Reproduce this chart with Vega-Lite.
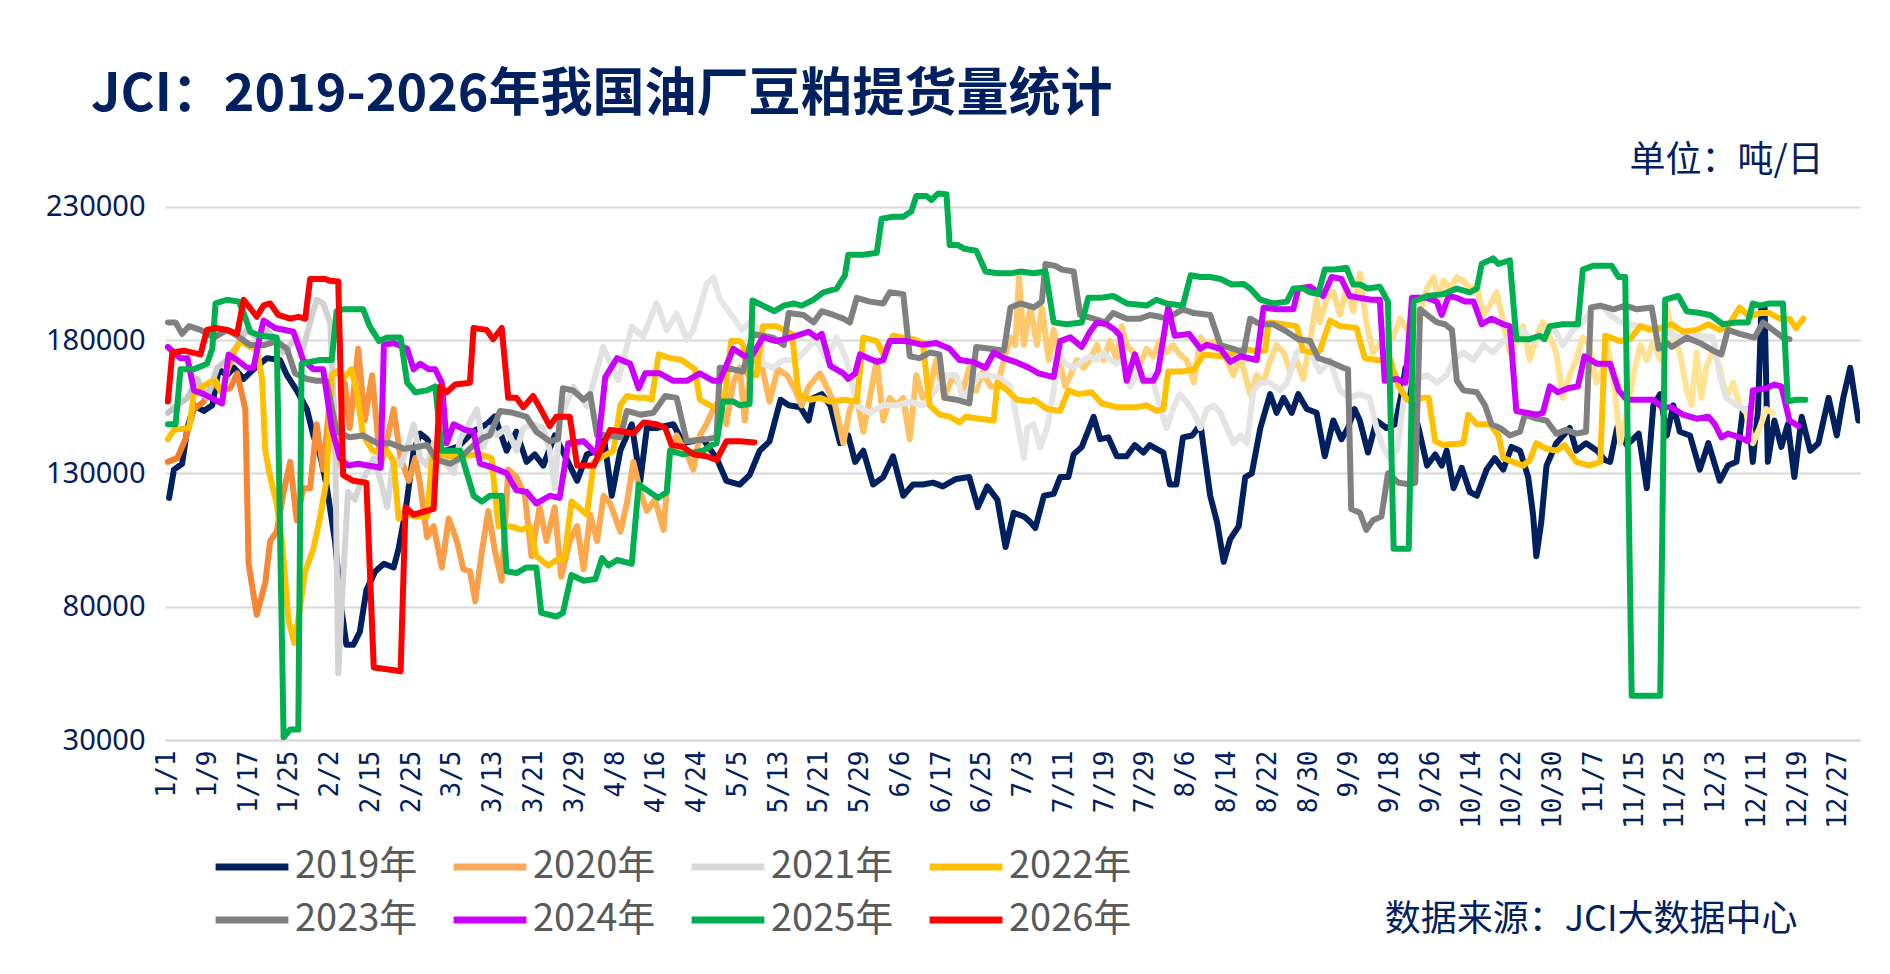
{
  "$schema": "https://vega.github.io/schema/vega-lite/v6.json",
  "width": 1695,
  "height": 560,
  "autosize": {"type": "none"},
  "padding": {"left": 165, "top": 180, "right": 30, "bottom": 234},
  "background": "white",
  "title": {
    "text": "JCI：2019-2026年我国油厂豆粕提货量统计",
    "anchor": "start",
    "frame": "group",
    "dx": -74,
    "offset": 20,
    "font": "Noto Sans CJK SC",
    "fontSize": 52,
    "fontWeight": "bold",
    "color": "#002060"
  },
  "datasets": {
    "d2019": [
      {"x":0.06,"y":120800},{"x":0.18,"y":131400},{"x":0.38,"y":133600},{"x":0.51,"y":147000},{"x":0.67,"y":155500},{"x":0.91,"y":153400},{"x":1.12,"y":155500},{"x":1.28,"y":169000},{"x":1.48,"y":166800},{"x":1.65,"y":169600},{"x":1.89,"y":165400},{"x":2.13,"y":169000},{"x":2.46,"y":173200},{"x":2.78,"y":172500},{"x":2.95,"y":166800},{"x":3.19,"y":161100},{"x":3.44,"y":154100},{"x":3.6,"y":144200},{"x":3.76,"y":137100},{"x":3.92,"y":125800},{"x":4.13,"y":104600},{"x":4.29,"y":79100},{"x":4.41,"y":65700},{"x":4.58,"y":65700},{"x":4.74,"y":70600},{"x":4.9,"y":86200},{"x":5.12,"y":93300},{"x":5.33,"y":96100},{"x":5.57,"y":94700},{"x":5.69,"y":101700},{"x":5.86,"y":115900},{"x":6.06,"y":138500},{"x":6.22,"y":144900},{"x":6.39,"y":142800},{"x":6.55,"y":138500},{"x":6.85,"y":138500},{"x":7.15,"y":140000},{"x":7.55,"y":146000},{"x":7.85,"y":148400},{"x":8.05,"y":151300},{"x":8.34,"y":138500},{"x":8.58,"y":145600},{"x":8.83,"y":134300},{"x":9.03,"y":137100},{"x":9.24,"y":132900},{"x":9.52,"y":144200},{"x":9.8,"y":135700},{"x":10.07,"y":127200},{"x":10.31,"y":137100},{"x":10.56,"y":138500},{"x":10.72,"y":144200},{"x":10.92,"y":121600},{"x":11.13,"y":138500},{"x":11.41,"y":148400},{"x":11.62,"y":127200},{"x":11.78,"y":147000},{"x":12.02,"y":147000},{"x":12.43,"y":148400},{"x":12.67,"y":141400},{"x":13.16,"y":142800},{"x":13.49,"y":135700},{"x":13.73,"y":127200},{"x":14.06,"y":125800},{"x":14.3,"y":129300},{"x":14.55,"y":138500},{"x":14.79,"y":142000},{"x":15.06,"y":157600},{"x":15.26,"y":155500},{"x":15.54,"y":154800},{"x":15.75,"y":149800},{"x":15.87,"y":158300},{"x":16.07,"y":159700},{"x":16.28,"y":155500},{"x":16.52,"y":141300},{"x":16.72,"y":144200},{"x":16.89,"y":134300},{"x":17.09,"y":138500},{"x":17.33,"y":125800},{"x":17.58,"y":128600},{"x":17.82,"y":136400},{"x":18.07,"y":121600},{"x":18.31,"y":125800},{"x":18.55,"y":125800},{"x":18.8,"y":126500},{"x":19.04,"y":125100},{"x":19.37,"y":127900},{"x":19.69,"y":128600},{"x":19.9,"y":117300},{"x":20.13,"y":125100},{"x":20.38,"y":120100},{"x":20.58,"y":102400},{"x":20.78,"y":115200},{"x":21.03,"y":113800},{"x":21.17,"y":112000},{"x":21.31,"y":109500},{"x":21.52,"y":121600},{"x":21.76,"y":122300},{"x":21.92,"y":128600},{"x":22.12,"y":128600},{"x":22.25,"y":137100},{"x":22.45,"y":139900},{"x":22.74,"y":151200},{"x":22.9,"y":142800},{"x":23.1,"y":143500},{"x":23.31,"y":136400},{"x":23.55,"y":136400},{"x":23.75,"y":140600},{"x":23.96,"y":137800},{"x":24.12,"y":140600},{"x":24.45,"y":137800},{"x":24.61,"y":125800},{"x":24.77,"y":125800},{"x":24.93,"y":143500},{"x":25.16,"y":144200},{"x":25.36,"y":148400},{"x":25.6,"y":121600},{"x":25.77,"y":111600},{"x":25.93,"y":96800},{"x":26.09,"y":105300},{"x":26.3,"y":110200},{"x":26.46,"y":128600},{"x":26.62,"y":130000},{"x":26.83,"y":147000},{"x":27.07,"y":159700},{"x":27.23,"y":152700},{"x":27.4,"y":158300},{"x":27.6,"y":152700},{"x":27.76,"y":159700},{"x":27.97,"y":154100},{"x":28.21,"y":152700},{"x":28.41,"y":136400},{"x":28.62,"y":149800},{"x":28.82,"y":142800},{"x":28.98,"y":147000},{"x":29.14,"y":154100},{"x":29.27,"y":149800},{"x":29.47,"y":137800},{"x":29.68,"y":149800},{"x":29.92,"y":147000},{"x":30.14,"y":148400},{"x":30.31,"y":161100},{"x":30.39,"y":169600},{"x":30.51,"y":158300},{"x":30.71,"y":147000},{"x":30.92,"y":132900},{"x":31.12,"y":137100},{"x":31.28,"y":132900},{"x":31.4,"y":138500},{"x":31.57,"y":124400},{"x":31.77,"y":132100},{"x":31.97,"y":123000},{"x":32.14,"y":121600},{"x":32.38,"y":131400},{"x":32.58,"y":135700},{"x":32.79,"y":131400},{"x":32.99,"y":139900},{"x":33.2,"y":138500},{"x":33.4,"y":128600},{"x":33.52,"y":114500},{"x":33.6,"y":98900},{"x":33.72,"y":111600},{"x":33.85,"y":132900},{"x":34.09,"y":141300},{"x":34.42,"y":147000},{"x":34.58,"y":138500},{"x":34.82,"y":141300},{"x":35.09,"y":138500},{"x":35.28,"y":135000},{"x":35.41,"y":134300},{"x":35.58,"y":147000},{"x":35.82,"y":140600},{"x":36.11,"y":144900},{"x":36.31,"y":124400},{"x":36.47,"y":155500},{"x":36.64,"y":159700},{"x":36.8,"y":144200},{"x":36.96,"y":155500},{"x":37.12,"y":145600},{"x":37.37,"y":144200},{"x":37.61,"y":131400},{"x":37.82,"y":141300},{"x":38.1,"y":127200},{"x":38.3,"y":132900},{"x":38.51,"y":134300},{"x":38.67,"y":154100},{"x":38.79,"y":154100},{"x":38.91,"y":134300},{"x":39.04,"y":154100},{"x":39.12,"y":192200},{"x":39.2,"y":192200},{"x":39.28,"y":134300},{"x":39.44,"y":149800},{"x":39.61,"y":139900},{"x":39.77,"y":148400},{"x":39.93,"y":128600},{"x":40.11,"y":151200},{"x":40.32,"y":138500},{"x":40.52,"y":141300},{"x":40.77,"y":158300},{"x":40.97,"y":144200},{"x":41.13,"y":158300},{"x":41.3,"y":169600},{"x":41.5,"y":149800}
    ],
    "d2020": [
      {"x":0.03,"y":134300},{"x":0.26,"y":135700},{"x":0.46,"y":142800},{"x":0.67,"y":154100},{"x":0.91,"y":156900},{"x":1.16,"y":164000},{"x":1.32,"y":161100},{"x":1.56,"y":161900},{"x":1.73,"y":167500},{"x":1.93,"y":154100},{"x":2.01,"y":96100},{"x":2.21,"y":77000},{"x":2.42,"y":89000},{"x":2.54,"y":104600},{"x":2.7,"y":108100},{"x":2.87,"y":123000},{"x":3.03,"y":134300},{"x":3.19,"y":112400},{"x":3.35,"y":124400},{"x":3.52,"y":124400},{"x":3.68,"y":148400},{"x":3.84,"y":131400},{"x":4.01,"y":158300},{"x":4.17,"y":132900},{"x":4.37,"y":164000},{"x":4.49,"y":147000},{"x":4.7,"y":176700},{"x":4.86,"y":149800},{"x":5.04,"y":166800},{"x":5.25,"y":132900},{"x":5.37,"y":139900},{"x":5.57,"y":154100},{"x":5.74,"y":135700},{"x":5.94,"y":127200},{"x":6.1,"y":135700},{"x":6.22,"y":125800},{"x":6.39,"y":106000},{"x":6.55,"y":110200},{"x":6.75,"y":94700},{"x":6.92,"y":113100},{"x":7.12,"y":104600},{"x":7.28,"y":94000},{"x":7.44,"y":93300},{"x":7.57,"y":82000},{"x":7.73,"y":100300},{"x":7.89,"y":115900},{"x":8.06,"y":100300},{"x":8.22,"y":89700},{"x":8.38,"y":131400},{"x":8.58,"y":128600},{"x":8.79,"y":121600},{"x":8.95,"y":98900},{"x":9.15,"y":117300},{"x":9.32,"y":104600},{"x":9.52,"y":117300},{"x":9.68,"y":91200},{"x":9.89,"y":104600},{"x":10.07,"y":110200},{"x":10.23,"y":94000},{"x":10.39,"y":114500},{"x":10.56,"y":104600},{"x":10.72,"y":121600},{"x":10.88,"y":118700},{"x":11.13,"y":108100},{"x":11.29,"y":118700},{"x":11.45,"y":134300},{"x":11.62,"y":123000},{"x":11.78,"y":115900},{"x":11.98,"y":120100},{"x":12.19,"y":108800},{"x":12.35,"y":138500},{"x":12.51,"y":144200},{"x":12.76,"y":137100},{"x":12.92,"y":131400},{"x":13.08,"y":144200},{"x":13.24,"y":148400},{"x":13.41,"y":154100},{"x":13.57,"y":157600},{"x":13.73,"y":148400},{"x":13.9,"y":164000},{"x":14.06,"y":169600},{"x":14.18,"y":149800},{"x":14.34,"y":171100},{"x":14.55,"y":173900},{"x":14.79,"y":156900},{"x":14.99,"y":169000},{"x":15.22,"y":166800},{"x":15.42,"y":161100},{"x":15.58,"y":155500},{"x":15.75,"y":162600},{"x":16.03,"y":167500},{"x":16.23,"y":161100},{"x":16.4,"y":155500},{"x":16.6,"y":141300},{"x":16.76,"y":154100},{"x":16.93,"y":158300},{"x":17.09,"y":145600},{"x":17.25,"y":158300},{"x":17.42,"y":172500},{"x":17.58,"y":149800},{"x":17.74,"y":158300},{"x":17.9,"y":155500},{"x":18.07,"y":158300},{"x":18.23,"y":142800},{"x":18.39,"y":166800},{"x":18.55,"y":158300},{"x":18.72,"y":161100},{"x":18.88,"y":172500},{"x":19.08,"y":158300},{"x":19.29,"y":166800},{"x":19.53,"y":161100},{"x":19.69,"y":169600},{"x":19.86,"y":161100},{"x":20.02,"y":168200},{"x":20.21,"y":162600},{"x":20.38,"y":162600},{"x":20.54,"y":172500},{"x":20.7,"y":180900},{"x":20.82,"y":178100},{"x":20.91,"y":203600},{"x":21.03,"y":178100},{"x":21.19,"y":192200},{"x":21.35,"y":178100},{"x":21.47,"y":192200},{"x":21.64,"y":172500},{"x":21.76,"y":183800},{"x":21.92,"y":171100},{"x":22.04,"y":162600},{"x":22.17,"y":166800},{"x":22.33,"y":172500},{"x":22.49,"y":169600},{"x":22.65,"y":172500},{"x":22.82,"y":178100},{"x":22.98,"y":172500},{"x":23.14,"y":179600},{"x":23.31,"y":172500},{"x":23.43,"y":185200},{"x":23.55,"y":178100},{"x":23.71,"y":175300},{"x":23.88,"y":171100},{"x":24.04,"y":176700},{"x":24.2,"y":173900},{"x":24.36,"y":179600},{"x":24.53,"y":175300},{"x":24.69,"y":178100},{"x":24.85,"y":174600},{"x":25.02,"y":172500},{"x":25.2,"y":164000},{"x":25.36,"y":181000},{"x":25.52,"y":178100},{"x":25.69,"y":179600},{"x":25.85,"y":175300},{"x":26.01,"y":172500},{"x":26.17,"y":166800},{"x":26.34,"y":173900},{"x":26.58,"y":159700},{"x":26.74,"y":166800},{"x":26.91,"y":164000},{"x":27.07,"y":172500},{"x":27.23,"y":178100},{"x":27.4,"y":175300},{"x":27.56,"y":168200},{"x":27.72,"y":172500},{"x":27.88,"y":165400},{"x":28.05,"y":179600},{"x":28.21,"y":195100},{"x":28.29,"y":186600},{"x":28.45,"y":195100},{"x":28.62,"y":197900},{"x":28.78,"y":189400},{"x":28.94,"y":199300},{"x":29.11,"y":190800},{"x":29.27,"y":205000},{"x":29.43,"y":186600},{"x":29.59,"y":175300},{"x":29.76,"y":178100},{"x":29.92,"y":183800},{"x":30.08,"y":181000},{"x":30.26,"y":188000},{"x":30.43,"y":183800},{"x":30.59,"y":186600},{"x":30.75,"y":190800},{"x":30.92,"y":199300},{"x":31.08,"y":203600},{"x":31.2,"y":195100},{"x":31.32,"y":202200},{"x":31.49,"y":199300},{"x":31.65,"y":203600},{"x":31.81,"y":202200},{"x":31.97,"y":199300},{"x":32.14,"y":200000},{"x":32.3,"y":189400},{"x":32.46,"y":193000},{"x":32.63,"y":197900},{"x":32.79,"y":186600},{"x":32.95,"y":175300},{"x":33.11,"y":179600},{"x":33.28,"y":185200},{"x":33.44,"y":172500},{"x":33.6,"y":181000},{"x":33.76,"y":186600},{"x":33.93,"y":181000},{"x":34.09,"y":175300},{"x":34.25,"y":158300},{"x":34.42,"y":166800},{"x":34.58,"y":172500},{"x":34.74,"y":181000},{"x":34.9,"y":178100},{"x":35.07,"y":164000},{"x":35.25,"y":169600},{"x":35.33,"y":179600},{"x":35.5,"y":164000},{"x":35.66,"y":141300},{"x":35.82,"y":152700},{"x":35.98,"y":166800},{"x":36.15,"y":178100},{"x":36.31,"y":172500},{"x":36.47,"y":179600},{"x":36.64,"y":172500},{"x":36.8,"y":192200},{"x":36.96,"y":181000},{"x":37.12,"y":175300},{"x":37.29,"y":161100},{"x":37.41,"y":155500},{"x":37.53,"y":175300},{"x":37.65,"y":158300},{"x":37.77,"y":169600},{"x":37.94,"y":176700},{"x":38.1,"y":169600},{"x":38.26,"y":158300},{"x":38.43,"y":164000},{"x":38.59,"y":155500},{"x":38.75,"y":152700},{"x":38.91,"y":141300},{"x":39.08,"y":147000},{"x":39.24,"y":154100},{"x":39.4,"y":152700}
    ],
    "d2021": [
      {"x":0.03,"y":152700},{"x":0.26,"y":155500},{"x":0.51,"y":158300},{"x":0.75,"y":165400},{"x":0.99,"y":158300},{"x":1.24,"y":169600},{"x":1.48,"y":172500},{"x":1.73,"y":178100},{"x":1.97,"y":183800},{"x":2.21,"y":181000},{"x":2.46,"y":183800},{"x":2.7,"y":179600},{"x":2.87,"y":175300},{"x":3.03,"y":178100},{"x":3.19,"y":181000},{"x":3.35,"y":176700},{"x":3.52,"y":186600},{"x":3.68,"y":195100},{"x":3.84,"y":193700},{"x":4.01,"y":186600},{"x":4.13,"y":147000},{"x":4.21,"y":55100},{"x":4.33,"y":90400},{"x":4.45,"y":123000},{"x":4.62,"y":120100},{"x":4.74,"y":125800},{"x":4.9,"y":130000},{"x":5.08,"y":135700},{"x":5.25,"y":127200},{"x":5.41,"y":117300},{"x":5.57,"y":135700},{"x":5.74,"y":132900},{"x":5.9,"y":139900},{"x":6.06,"y":148400},{"x":6.22,"y":135700},{"x":6.39,"y":132900},{"x":6.55,"y":141300},{"x":6.71,"y":139900},{"x":6.87,"y":132900},{"x":7.04,"y":130000},{"x":7.2,"y":142800},{"x":7.36,"y":147000},{"x":7.61,"y":154100},{"x":7.77,"y":139900},{"x":7.93,"y":147000},{"x":8.1,"y":144200},{"x":8.34,"y":147000},{"x":8.58,"y":138500},{"x":8.75,"y":147000},{"x":8.99,"y":148400},{"x":9.24,"y":147000},{"x":9.4,"y":138500},{"x":9.52,"y":124400},{"x":9.65,"y":150000},{"x":9.98,"y":162500},{"x":10.31,"y":155100},{"x":10.71,"y":177400},{"x":11.08,"y":165000},{"x":11.41,"y":185000},{"x":11.69,"y":181200},{"x":12.02,"y":193800},{"x":12.27,"y":183700},{"x":12.51,"y":190000},{"x":12.76,"y":180000},{"x":12.92,"y":183700},{"x":13.25,"y":201000},{"x":13.41,"y":203500},{"x":13.58,"y":195000},{"x":13.9,"y":188600},{"x":14.11,"y":183700},{"x":14.3,"y":186600},{"x":14.47,"y":185200},{"x":14.63,"y":171100},{"x":14.87,"y":169600},{"x":15.14,"y":172500},{"x":15.46,"y":172500},{"x":15.79,"y":178100},{"x":15.95,"y":179600},{"x":16.19,"y":172500},{"x":16.44,"y":181000},{"x":16.68,"y":172500},{"x":16.93,"y":155500},{"x":17.25,"y":152700},{"x":17.58,"y":155500},{"x":17.9,"y":155500},{"x":18.23,"y":156900},{"x":18.55,"y":155500},{"x":18.8,"y":159700},{"x":19.13,"y":166800},{"x":19.37,"y":166800},{"x":19.53,"y":158300},{"x":19.69,"y":161100},{"x":19.94,"y":166800},{"x":20.21,"y":166800},{"x":20.46,"y":165400},{"x":20.7,"y":162600},{"x":20.86,"y":149800},{"x":21.03,"y":135700},{"x":21.11,"y":147000},{"x":21.27,"y":148400},{"x":21.43,"y":139900},{"x":21.6,"y":147000},{"x":21.76,"y":161100},{"x":21.88,"y":175300},{"x":22.04,"y":171100},{"x":22.25,"y":169600},{"x":22.49,"y":172500},{"x":22.65,"y":173900},{"x":22.82,"y":172500},{"x":22.98,"y":175300},{"x":23.14,"y":172500},{"x":23.31,"y":171100},{"x":23.47,"y":172500},{"x":23.63,"y":162600},{"x":23.79,"y":166800},{"x":23.96,"y":164000},{"x":24.16,"y":166800},{"x":24.36,"y":155500},{"x":24.53,"y":147000},{"x":24.69,"y":154100},{"x":24.85,"y":159700},{"x":25.02,"y":156900},{"x":25.2,"y":152700},{"x":25.36,"y":147000},{"x":25.52,"y":154100},{"x":25.69,"y":155500},{"x":25.85,"y":152700},{"x":26.01,"y":147000},{"x":26.17,"y":141300},{"x":26.34,"y":144200},{"x":26.5,"y":141300},{"x":26.66,"y":161100},{"x":26.83,"y":164000},{"x":27.07,"y":164000},{"x":27.31,"y":161100},{"x":27.48,"y":164000},{"x":27.72,"y":175300},{"x":27.88,"y":176700},{"x":28.05,"y":175300},{"x":28.29,"y":168000},{"x":28.54,"y":172500},{"x":28.78,"y":161100},{"x":29.02,"y":158300},{"x":29.27,"y":159700},{"x":29.51,"y":158300},{"x":29.68,"y":147000},{"x":29.84,"y":139900},{"x":30.0,"y":135700},{"x":30.18,"y":138500},{"x":30.43,"y":166800},{"x":30.67,"y":165400},{"x":30.92,"y":166800},{"x":31.16,"y":164000},{"x":31.4,"y":166800},{"x":31.57,"y":172500},{"x":31.81,"y":175300},{"x":32.06,"y":172500},{"x":32.3,"y":178100},{"x":32.54,"y":175300},{"x":32.79,"y":179600},{"x":33.03,"y":181000},{"x":33.28,"y":183800},{"x":33.52,"y":179600},{"x":33.76,"y":182300},{"x":34.01,"y":185200},{"x":34.25,"y":178100},{"x":34.5,"y":183800},{"x":34.74,"y":186600},{"x":34.99,"y":192200},{"x":35.25,"y":192200},{"x":35.41,"y":189400},{"x":35.66,"y":186600},{"x":36.15,"y":185200},{"x":36.64,"y":183800},{"x":37.12,"y":181000},{"x":37.61,"y":181600},{"x":37.94,"y":181000},{"x":38.1,"y":166800},{"x":38.26,"y":158300},{"x":38.51,"y":155500},{"x":38.75,"y":154100}
    ],
    "d2022": [
      {"x":0.03,"y":142800},{"x":0.18,"y":146300},{"x":0.55,"y":147000},{"x":0.67,"y":159700},{"x":0.83,"y":161900},{"x":1.03,"y":164000},{"x":1.2,"y":164700},{"x":1.36,"y":159700},{"x":1.48,"y":168200},{"x":1.65,"y":175300},{"x":1.81,"y":179600},{"x":2.05,"y":177400},{"x":2.21,"y":176700},{"x":2.34,"y":165400},{"x":2.42,"y":138500},{"x":2.54,"y":128600},{"x":2.7,"y":118700},{"x":2.83,"y":104600},{"x":2.99,"y":74900},{"x":3.13,"y":66400},{"x":3.27,"y":79100},{"x":3.4,"y":93300},{"x":3.6,"y":101700},{"x":3.76,"y":113100},{"x":3.92,"y":127200},{"x":4.05,"y":166800},{"x":4.17,"y":168200},{"x":4.33,"y":165400},{"x":4.53,"y":169000},{"x":4.66,"y":161100},{"x":4.82,"y":144200},{"x":5.05,"y":138500},{"x":5.21,"y":137800},{"x":5.41,"y":138500},{"x":5.57,"y":134300},{"x":5.69,"y":113100},{"x":5.9,"y":114500},{"x":6.14,"y":113800},{"x":6.39,"y":113800},{"x":6.51,"y":135700},{"x":6.71,"y":137100},{"x":6.96,"y":136400},{"x":7.2,"y":136400},{"x":7.69,"y":137100},{"x":7.97,"y":135700},{"x":8.14,"y":110200},{"x":8.42,"y":110200},{"x":8.71,"y":108800},{"x":8.91,"y":110200},{"x":9.07,"y":98900},{"x":9.36,"y":95400},{"x":9.56,"y":97500},{"x":9.76,"y":98200},{"x":9.93,"y":119400},{"x":10.15,"y":116600},{"x":10.31,"y":114500},{"x":10.48,"y":134300},{"x":10.72,"y":136400},{"x":10.96,"y":138500},{"x":11.13,"y":155500},{"x":11.29,"y":159000},{"x":11.54,"y":158300},{"x":11.78,"y":158300},{"x":11.9,"y":157600},{"x":12.07,"y":174600},{"x":12.35,"y":173200},{"x":12.63,"y":172500},{"x":12.96,"y":169000},{"x":13.08,"y":157600},{"x":13.33,"y":155500},{"x":13.53,"y":154100},{"x":13.69,"y":158300},{"x":13.85,"y":179600},{"x":14.06,"y":179600},{"x":14.14,"y":178100},{"x":14.26,"y":166800},{"x":14.47,"y":166800},{"x":14.63,"y":185200},{"x":14.95,"y":185200},{"x":15.14,"y":183800},{"x":15.34,"y":182300},{"x":15.5,"y":159700},{"x":15.79,"y":157600},{"x":16.03,"y":158300},{"x":16.28,"y":156900},{"x":16.6,"y":157600},{"x":16.93,"y":156900},{"x":17.09,"y":180900},{"x":17.42,"y":179600},{"x":17.58,"y":174600},{"x":17.82,"y":181600},{"x":18.07,"y":180900},{"x":18.31,"y":180300},{"x":18.55,"y":178900},{"x":18.72,"y":155500},{"x":18.96,"y":152000},{"x":19.21,"y":151200},{"x":19.45,"y":149100},{"x":19.61,"y":151200},{"x":19.94,"y":150500},{"x":20.29,"y":149800},{"x":20.38,"y":164000},{"x":20.62,"y":161100},{"x":20.86,"y":157600},{"x":21.19,"y":156900},{"x":21.27,"y":157600},{"x":21.6,"y":154100},{"x":21.92,"y":153400},{"x":22.12,"y":161100},{"x":22.37,"y":159700},{"x":22.69,"y":160400},{"x":22.94,"y":156200},{"x":23.31,"y":154800},{"x":23.79,"y":154800},{"x":24.04,"y":155500},{"x":24.28,"y":153400},{"x":24.45,"y":154100},{"x":24.57,"y":168200},{"x":24.93,"y":168200},{"x":25.2,"y":169000},{"x":25.44,"y":174600},{"x":25.85,"y":173900},{"x":26.17,"y":175300},{"x":26.42,"y":176700},{"x":26.66,"y":176000},{"x":26.95,"y":176000},{"x":27.03,"y":186600},{"x":27.4,"y":185900},{"x":27.72,"y":185200},{"x":27.88,"y":176000},{"x":28.13,"y":175300},{"x":28.29,"y":176000},{"x":28.54,"y":187300},{"x":28.78,"y":185200},{"x":29.19,"y":184500},{"x":29.39,"y":173200},{"x":29.68,"y":172500},{"x":30.02,"y":172500},{"x":30.22,"y":162600},{"x":30.43,"y":157600},{"x":30.83,"y":158300},{"x":30.96,"y":158300},{"x":31.12,"y":142000},{"x":31.32,"y":140600},{"x":31.81,"y":141300},{"x":31.93,"y":152000},{"x":32.14,"y":148400},{"x":32.46,"y":148400},{"x":32.67,"y":144200},{"x":32.79,"y":135700},{"x":33.03,"y":134300},{"x":33.28,"y":132900},{"x":33.44,"y":135000},{"x":33.6,"y":141300},{"x":33.85,"y":139200},{"x":34.09,"y":138500},{"x":34.29,"y":140600},{"x":34.58,"y":134300},{"x":34.9,"y":132900},{"x":35.17,"y":134300},{"x":35.29,"y":181600},{"x":35.66,"y":179600},{"x":35.9,"y":180300},{"x":36.15,"y":185200},{"x":36.39,"y":183800},{"x":36.64,"y":184500},{"x":36.92,"y":185900},{"x":37.2,"y":183100},{"x":37.53,"y":183800},{"x":37.82,"y":185900},{"x":38.1,"y":183800},{"x":38.3,"y":185200},{"x":38.59,"y":192200},{"x":38.83,"y":188700},{"x":39.08,"y":190100},{"x":39.32,"y":190100},{"x":39.57,"y":188000},{"x":39.81,"y":188000},{"x":39.97,"y":184500},{"x":40.15,"y":188000}
    ],
    "d2023": [
      {"x":0.03,"y":186600},{"x":0.22,"y":186600},{"x":0.38,"y":182300},{"x":0.55,"y":185200},{"x":0.83,"y":183800},{"x":1.16,"y":180900},{"x":1.48,"y":183800},{"x":1.73,"y":181600},{"x":2.05,"y":178100},{"x":2.38,"y":178100},{"x":2.7,"y":179600},{"x":2.95,"y":176700},{"x":3.15,"y":167500},{"x":3.44,"y":165400},{"x":3.68,"y":164700},{"x":3.92,"y":164700},{"x":4.17,"y":145600},{"x":4.49,"y":143500},{"x":4.82,"y":144200},{"x":5.16,"y":141300},{"x":5.49,"y":141300},{"x":5.82,"y":139200},{"x":6.14,"y":139900},{"x":6.39,"y":140600},{"x":6.63,"y":135000},{"x":6.96,"y":133600},{"x":7.2,"y":135700},{"x":7.53,"y":140600},{"x":7.77,"y":143500},{"x":7.93,"y":144200},{"x":8.18,"y":153400},{"x":8.5,"y":152700},{"x":8.83,"y":151200},{"x":9.07,"y":145600},{"x":9.4,"y":142000},{"x":9.6,"y":142800},{"x":9.72,"y":161900},{"x":9.97,"y":161100},{"x":10.23,"y":157600},{"x":10.39,"y":159700},{"x":10.56,"y":144200},{"x":10.88,"y":144200},{"x":11.13,"y":143500},{"x":11.29,"y":153400},{"x":11.62,"y":152000},{"x":11.94,"y":152700},{"x":12.23,"y":159000},{"x":12.51,"y":158300},{"x":12.76,"y":142000},{"x":13.24,"y":142800},{"x":13.49,"y":143500},{"x":13.57,"y":169600},{"x":13.9,"y":169000},{"x":14.14,"y":168200},{"x":14.38,"y":182300},{"x":14.87,"y":180900},{"x":15.14,"y":178100},{"x":15.26,"y":190100},{"x":15.62,"y":189400},{"x":15.87,"y":186600},{"x":16.07,"y":190800},{"x":16.36,"y":189400},{"x":16.6,"y":188000},{"x":16.76,"y":186600},{"x":16.93,"y":195800},{"x":17.25,"y":194400},{"x":17.58,"y":193700},{"x":17.74,"y":197900},{"x":18.07,"y":197200},{"x":18.23,"y":173900},{"x":18.47,"y":173200},{"x":18.72,"y":175300},{"x":18.96,"y":174600},{"x":19.08,"y":158300},{"x":19.37,"y":157600},{"x":19.69,"y":156200},{"x":19.86,"y":177400},{"x":20.21,"y":176700},{"x":20.54,"y":176000},{"x":20.7,"y":192200},{"x":20.95,"y":193700},{"x":21.27,"y":192200},{"x":21.47,"y":194400},{"x":21.56,"y":208500},{"x":21.8,"y":207800},{"x":21.96,"y":206400},{"x":22.25,"y":205700},{"x":22.41,"y":189400},{"x":22.74,"y":188000},{"x":23.02,"y":186600},{"x":23.22,"y":190100},{"x":23.55,"y":188000},{"x":23.88,"y":188000},{"x":24.12,"y":189400},{"x":24.36,"y":188700},{"x":24.53,"y":188000},{"x":24.69,"y":189400},{"x":24.93,"y":191500},{"x":25.2,"y":190100},{"x":25.6,"y":189400},{"x":25.85,"y":178100},{"x":26.17,"y":176700},{"x":26.42,"y":175300},{"x":26.58,"y":188000},{"x":26.83,"y":185900},{"x":27.15,"y":185900},{"x":27.48,"y":183100},{"x":27.76,"y":180300},{"x":28.05,"y":179600},{"x":28.25,"y":173200},{"x":28.54,"y":171800},{"x":28.86,"y":169600},{"x":28.98,"y":169000},{"x":29.06,"y":116600},{"x":29.27,"y":115200},{"x":29.43,"y":108800},{"x":29.59,"y":112400},{"x":29.8,"y":113800},{"x":29.96,"y":130000},{"x":30.22,"y":126500},{"x":30.51,"y":125800},{"x":30.63,"y":126500},{"x":30.75,"y":191500},{"x":31.16,"y":186600},{"x":31.36,"y":185900},{"x":31.53,"y":183800},{"x":31.65,"y":164700},{"x":31.81,"y":161100},{"x":32.14,"y":160400},{"x":32.34,"y":155500},{"x":32.5,"y":148400},{"x":32.71,"y":147000},{"x":32.95,"y":144200},{"x":33.2,"y":145600},{"x":33.32,"y":152000},{"x":33.6,"y":150500},{"x":33.85,"y":149800},{"x":34.09,"y":144900},{"x":34.33,"y":146300},{"x":34.58,"y":144900},{"x":34.82,"y":145600},{"x":34.94,"y":192200},{"x":35.17,"y":192900},{"x":35.5,"y":191500},{"x":35.78,"y":192900},{"x":36.07,"y":191500},{"x":36.43,"y":192200},{"x":36.6,"y":176700},{"x":36.8,"y":178900},{"x":36.92,"y":177400},{"x":37.29,"y":180900},{"x":37.61,"y":178900},{"x":37.94,"y":176000},{"x":38.14,"y":174600},{"x":38.3,"y":183800},{"x":38.59,"y":182300},{"x":38.95,"y":180900},{"x":39.16,"y":186600},{"x":39.4,"y":183800},{"x":39.65,"y":180900},{"x":39.81,"y":180300}
    ],
    "d2024": [
      {"x":0.03,"y":177400},{"x":0.34,"y":173200},{"x":0.51,"y":173200},{"x":0.67,"y":161100},{"x":0.91,"y":159700},{"x":1.36,"y":156200},{"x":1.52,"y":174600},{"x":1.73,"y":172500},{"x":1.97,"y":169600},{"x":2.13,"y":169600},{"x":2.3,"y":182300},{"x":2.38,"y":187300},{"x":2.66,"y":184500},{"x":3.11,"y":183100},{"x":3.35,"y":172500},{"x":3.6,"y":169000},{"x":3.84,"y":169000},{"x":4.05,"y":147000},{"x":4.25,"y":135700},{"x":4.45,"y":132900},{"x":4.7,"y":133600},{"x":5.25,"y":132100},{"x":5.33,"y":178200},{"x":5.57,"y":178900},{"x":5.9,"y":176700},{"x":6.06,"y":169000},{"x":6.22,"y":171100},{"x":6.43,"y":169000},{"x":6.59,"y":169000},{"x":6.75,"y":164000},{"x":6.87,"y":141300},{"x":7.04,"y":148400},{"x":7.32,"y":146300},{"x":7.53,"y":145600},{"x":7.69,"y":133600},{"x":8.01,"y":132100},{"x":8.34,"y":130000},{"x":8.58,"y":123700},{"x":8.83,"y":123000},{"x":9.07,"y":118700},{"x":9.4,"y":121600},{"x":9.64,"y":120800},{"x":9.85,"y":141300},{"x":10.23,"y":142000},{"x":10.56,"y":137100},{"x":10.76,"y":166100},{"x":11.05,"y":173200},{"x":11.37,"y":171100},{"x":11.58,"y":161900},{"x":11.74,"y":167500},{"x":12.1,"y":167500},{"x":12.43,"y":164700},{"x":12.76,"y":164700},{"x":13.08,"y":167500},{"x":13.41,"y":164700},{"x":13.57,"y":164700},{"x":13.9,"y":176700},{"x":14.18,"y":173900},{"x":14.38,"y":174600},{"x":14.63,"y":181000},{"x":14.95,"y":179600},{"x":15.3,"y":180900},{"x":15.75,"y":183100},{"x":15.95,"y":180900},{"x":16.07,"y":182300},{"x":16.28,"y":170300},{"x":16.6,"y":167500},{"x":16.72,"y":165400},{"x":16.89,"y":167500},{"x":17.01,"y":174600},{"x":17.42,"y":171800},{"x":17.58,"y":172500},{"x":17.74,"y":179600},{"x":18.15,"y":179600},{"x":18.55,"y":178200},{"x":18.88,"y":178900},{"x":19.21,"y":176700},{"x":19.45,"y":172500},{"x":19.78,"y":171800},{"x":20.09,"y":169600},{"x":20.29,"y":175300},{"x":20.54,"y":173200},{"x":20.82,"y":171800},{"x":21.15,"y":169600},{"x":21.39,"y":167500},{"x":21.76,"y":166100},{"x":21.92,"y":179600},{"x":22.17,"y":181000},{"x":22.45,"y":177400},{"x":22.65,"y":183100},{"x":22.82,"y":186600},{"x":23.06,"y":185900},{"x":23.26,"y":183800},{"x":23.39,"y":181600},{"x":23.55,"y":164700},{"x":23.75,"y":174600},{"x":23.96,"y":164700},{"x":24.2,"y":164700},{"x":24.32,"y":168200},{"x":24.57,"y":192200},{"x":24.73,"y":181600},{"x":25.08,"y":182300},{"x":25.36,"y":176700},{"x":25.52,"y":178200},{"x":25.85,"y":176700},{"x":26.09,"y":171800},{"x":26.34,"y":173900},{"x":26.74,"y":172500},{"x":26.91,"y":192200},{"x":27.23,"y":191500},{"x":27.64,"y":191500},{"x":27.76,"y":199300},{"x":28.05,"y":200000},{"x":28.37,"y":196500},{"x":28.58,"y":203600},{"x":28.82,"y":202900},{"x":29.02,"y":196500},{"x":29.27,"y":195800},{"x":29.55,"y":195100},{"x":29.76,"y":195100},{"x":29.88,"y":164700},{"x":30.18,"y":165400},{"x":30.39,"y":164000},{"x":30.55,"y":195800},{"x":30.92,"y":195800},{"x":31.16,"y":194400},{"x":31.28,"y":189400},{"x":31.45,"y":196500},{"x":31.65,"y":195800},{"x":31.85,"y":194400},{"x":32.06,"y":194400},{"x":32.26,"y":185900},{"x":32.5,"y":188000},{"x":32.79,"y":185900},{"x":32.95,"y":185200},{"x":33.11,"y":153400},{"x":33.36,"y":152700},{"x":33.6,"y":152000},{"x":33.76,"y":152700},{"x":33.93,"y":162600},{"x":34.13,"y":160400},{"x":34.38,"y":161900},{"x":34.62,"y":162600},{"x":34.78,"y":173900},{"x":35.09,"y":171100},{"x":35.41,"y":171100},{"x":35.62,"y":161100},{"x":35.82,"y":157600},{"x":36.15,"y":157600},{"x":36.47,"y":157600},{"x":36.68,"y":154800},{"x":36.92,"y":154800},{"x":37.2,"y":152000},{"x":37.53,"y":150500},{"x":37.82,"y":151200},{"x":37.98,"y":148400},{"x":38.14,"y":143500},{"x":38.3,"y":144900},{"x":38.59,"y":143500},{"x":38.79,"y":142000},{"x":38.91,"y":161100},{"x":39.24,"y":161900},{"x":39.44,"y":163300},{"x":39.61,"y":162600},{"x":39.81,"y":149800},{"x":40.03,"y":147700}
    ],
    "d2025": [
      {"x":0.03,"y":148400},{"x":0.22,"y":148400},{"x":0.34,"y":169000},{"x":0.67,"y":169000},{"x":0.99,"y":171100},{"x":1.12,"y":176700},{"x":1.2,"y":193700},{"x":1.48,"y":195100},{"x":1.77,"y":194400},{"x":1.89,"y":190100},{"x":2.05,"y":183100},{"x":2.3,"y":181600},{"x":2.7,"y":180900},{"x":2.87,"y":31000},{"x":3.03,"y":33900},{"x":3.23,"y":33900},{"x":3.31,"y":171100},{"x":3.52,"y":171800},{"x":3.76,"y":172500},{"x":4.05,"y":172500},{"x":4.17,"y":190800},{"x":4.33,"y":191500},{"x":4.82,"y":191500},{"x":4.98,"y":185200},{"x":5.21,"y":179600},{"x":5.41,"y":180900},{"x":5.74,"y":180900},{"x":5.9,"y":164000},{"x":6.1,"y":160400},{"x":6.39,"y":161100},{"x":6.59,"y":162600},{"x":6.75,"y":138500},{"x":7.2,"y":138500},{"x":7.53,"y":121600},{"x":7.73,"y":119400},{"x":7.93,"y":121600},{"x":8.22,"y":121600},{"x":8.34,"y":93300},{"x":8.58,"y":92600},{"x":8.83,"y":94700},{"x":9.07,"y":94700},{"x":9.19,"y":77700},{"x":9.56,"y":76300},{"x":9.72,"y":77700},{"x":9.93,"y":91900},{"x":10.23,"y":89700},{"x":10.52,"y":90400},{"x":10.68,"y":98200},{"x":10.84,"y":95400},{"x":11.05,"y":97500},{"x":11.41,"y":96100},{"x":11.58,"y":125800},{"x":11.78,"y":123700},{"x":12.06,"y":120800},{"x":12.27,"y":123000},{"x":12.35,"y":138500},{"x":12.67,"y":137100},{"x":13.16,"y":138500},{"x":13.37,"y":140600},{"x":13.49,"y":141300},{"x":13.65,"y":156900},{"x":13.9,"y":156900},{"x":14.07,"y":155500},{"x":14.3,"y":156000},{"x":14.37,"y":194800},{"x":14.63,"y":192900},{"x":14.91,"y":190800},{"x":15.14,"y":192900},{"x":15.38,"y":193700},{"x":15.58,"y":192900},{"x":15.87,"y":195100},{"x":16.11,"y":197900},{"x":16.44,"y":199300},{"x":16.64,"y":204300},{"x":16.72,"y":212000},{"x":17.09,"y":212000},{"x":17.42,"y":212700},{"x":17.54,"y":225500},{"x":17.82,"y":226200},{"x":18.07,"y":226200},{"x":18.27,"y":228300},{"x":18.39,"y":234000},{"x":18.64,"y":234000},{"x":18.76,"y":232500},{"x":18.92,"y":234900},{"x":19.13,"y":234700},{"x":19.21,"y":215600},{"x":19.41,"y":215600},{"x":19.57,"y":214200},{"x":19.86,"y":213500},{"x":20.09,"y":205700},{"x":20.38,"y":205000},{"x":20.7,"y":205000},{"x":20.95,"y":205700},{"x":21.27,"y":205000},{"x":21.56,"y":205700},{"x":21.76,"y":186600},{"x":22.08,"y":185900},{"x":22.45,"y":186600},{"x":22.61,"y":195800},{"x":22.9,"y":195800},{"x":23.22,"y":196500},{"x":23.39,"y":195100},{"x":23.55,"y":193700},{"x":24.04,"y":192900},{"x":24.28,"y":195100},{"x":24.53,"y":193700},{"x":24.93,"y":192900},{"x":25.12,"y":204300},{"x":25.36,"y":203600},{"x":25.6,"y":203600},{"x":25.85,"y":202900},{"x":26.13,"y":200800},{"x":26.42,"y":201000},{"x":26.58,"y":199300},{"x":26.83,"y":195100},{"x":27.15,"y":193700},{"x":27.48,"y":194400},{"x":27.64,"y":199300},{"x":27.88,"y":199300},{"x":28.05,"y":197900},{"x":28.25,"y":197200},{"x":28.41,"y":206400},{"x":28.62,"y":206400},{"x":28.94,"y":207100},{"x":29.11,"y":200800},{"x":29.27,"y":200800},{"x":29.47,"y":199300},{"x":29.76,"y":200000},{"x":29.96,"y":194400},{"x":30.1,"y":101700},{"x":30.47,"y":101700},{"x":30.59,"y":194400},{"x":30.92,"y":196500},{"x":31.32,"y":197200},{"x":31.65,"y":199300},{"x":31.97,"y":197900},{"x":32.14,"y":199300},{"x":32.26,"y":208500},{"x":32.54,"y":210600},{"x":32.67,"y":208500},{"x":32.95,"y":209900},{"x":33.11,"y":180300},{"x":33.44,"y":180300},{"x":33.68,"y":181600},{"x":33.8,"y":180300},{"x":33.93,"y":185200},{"x":34.25,"y":185900},{"x":34.62,"y":185900},{"x":34.74,"y":206400},{"x":34.99,"y":207800},{"x":35.45,"y":207800},{"x":35.62,"y":203600},{"x":35.78,"y":203600},{"x":35.94,"y":46600},{"x":36.64,"y":46600},{"x":36.76,"y":195100},{"x":37.08,"y":196500},{"x":37.29,"y":190800},{"x":37.61,"y":190100},{"x":37.86,"y":189400},{"x":38.18,"y":185900},{"x":38.51,"y":186600},{"x":38.79,"y":186600},{"x":38.91,"y":193700},{"x":39.08,"y":192900},{"x":39.32,"y":193700},{"x":39.65,"y":193700},{"x":39.77,"y":156900},{"x":39.97,"y":157600},{"x":40.2,"y":157600}
    ],
    "d2026": [
      {"x":0.03,"y":156900},{"x":0.14,"y":175300},{"x":0.42,"y":176000},{"x":0.83,"y":174600},{"x":0.99,"y":183800},{"x":1.2,"y":184500},{"x":1.48,"y":183800},{"x":1.73,"y":182300},{"x":1.89,"y":195100},{"x":2.21,"y":188700},{"x":2.38,"y":193000},{"x":2.54,"y":193700},{"x":2.74,"y":189400},{"x":3.03,"y":188000},{"x":3.23,"y":188700},{"x":3.4,"y":188000},{"x":3.52,"y":202900},{"x":3.68,"y":202900},{"x":3.88,"y":202900},{"x":4.01,"y":202200},{"x":4.21,"y":201900},{"x":4.33,"y":129300},{"x":4.58,"y":127200},{"x":4.9,"y":126500},{"x":5.08,"y":57200},{"x":5.41,"y":56500},{"x":5.74,"y":55800},{"x":5.86,"y":117300},{"x":6.06,"y":114500},{"x":6.55,"y":116700},{"x":6.71,"y":162600},{"x":6.87,"y":160400},{"x":7.08,"y":163300},{"x":7.44,"y":164000},{"x":7.53,"y":184500},{"x":7.85,"y":183800},{"x":8.01,"y":180300},{"x":8.22,"y":184500},{"x":8.38,"y":158300},{"x":8.58,"y":158300},{"x":8.75,"y":154800},{"x":8.99,"y":159000},{"x":9.15,"y":154800},{"x":9.4,"y":147700},{"x":9.56,"y":151200},{"x":9.89,"y":151200},{"x":10.07,"y":132900},{"x":10.48,"y":132900},{"x":10.6,"y":137100},{"x":10.88,"y":146300},{"x":11.21,"y":145600},{"x":11.45,"y":144900},{"x":11.7,"y":149100},{"x":12.02,"y":148400},{"x":12.23,"y":147000},{"x":12.39,"y":140600},{"x":12.67,"y":139900},{"x":12.92,"y":137100},{"x":13.24,"y":136400},{"x":13.49,"y":135000},{"x":13.73,"y":142000},{"x":14.06,"y":142000},{"x":14.42,"y":141600}
    ]
  },
  "encoding": {
    "x": {
      "field": "x",
      "type": "quantitative",
      "scale": {"domain": [-0.04, 41.54], "nice": false, "zero": false},
      "axis": {
        "values": [0,1,2,3,4,5,6,7,8,9,10,11,12,13,14,15,16,17,18,19,20,21,22,23,24,25,26,27,28,29,30,31,32,33,34,35,36,37,38,39,40,41],
        "labelExpr": "['1/1','1/9','1/17','1/25','2/2','2/15','2/25','3/5','3/13','3/21','3/29','4/8','4/16','4/24','5/5','5/13','5/21','5/29','6/6','6/17','6/25','7/3','7/11','7/19','7/29','8/6','8/14','8/22','8/30','9/9','9/18','9/26','10/14','10/22','10/30','11/7','11/15','11/25','12/3','12/11','12/19','12/27'][datum.value]",
        "labelAngle": -90,
        "labelFont": "DejaVu Sans Mono",
        "labelFontSize": 26,
        "labelColor": "#002060",
        "labelPadding": 10,
        "labelFlush": false,
        "labelOverlap": false,
        "labelBound": false,
        "ticks": false,
        "grid": false,
        "domain": true,
        "domainColor": "#D9D9D9",
        "domainWidth": 2,
        "title": "数据来源：JCI大数据中心",
        "titleX": 1632,
        "titleY": 190,
        "titleAlign": "right",
        "titleBaseline": "alphabetic",
        "titleFont": "Noto Sans CJK SC",
        "titleFontSize": 36,
        "titleFontWeight": "normal",
        "titleColor": "#002060"
      }
    },
    "y": {
      "field": "y",
      "type": "quantitative",
      "scale": {"domain": [30000, 240000], "nice": false, "zero": false},
      "axis": {
        "values": [30000, 80000, 130000, 180000, 230000],
        "format": "d",
        "grid": true,
        "gridColor": "#D9D9D9",
        "gridWidth": 2,
        "domain": false,
        "ticks": false,
        "labelFont": "Noto Sans",
        "labelFontSize": 29,
        "labelColor": "#002060",
        "labelPadding": 20,
        "title": "单位：吨/日",
        "titleAngle": 0,
        "titleAlign": "right",
        "titleBaseline": "alphabetic",
        "titleX": 1658,
        "titleY": -9,
        "titleFont": "Noto Sans CJK SC",
        "titleFontSize": 36,
        "titleFontWeight": "normal",
        "titleColor": "#002060"
      }
    }
  },
  "layer": [
    {
      "data": {"name": "d2019"},
      "mark": {"type": "line", "strokeWidth": 6, "strokeJoin": "round", "strokeCap": "round", "clip": true},
      "encoding": {
        "color": {
          "datum": "2019年",
          "type": "nominal",
          "scale": {
            "domain": ["2019年", "2020年", "2021年", "2022年", "2023年", "2024年", "2025年", "2026年"],
            "range": ["#002060", "#FAA85A", "#D9D9D9", "#FFC000", "#808080", "#CC00FF", "#00B050", "#FF0000"]
          },
          "legend": {
            "title": null,
            "orient": "none",
            "legendX": 47,
            "legendY": 667,
            "direction": "horizontal",
            "columns": 4,
            "symbolType": "stroke",
            "symbolSize": 5300,
            "symbolStrokeWidth": 7,
            "clipHeight": 40,
            "rowPadding": 13,
            "columnPadding": 32,
            "labelOffset": 3,
            "labelFont": "Noto Sans CJK SC",
            "labelFontSize": 38,
            "labelColor": "#595959",
            "labelLimit": 300,
            "padding": 0
          }
        }
      }
    },
    {
      "data": {"name": "d2020"},
      "mark": {
        "type": "line", "strokeWidth": 6, "strokeJoin": "round", "strokeCap": "round", "clip": true,
        "stroke": {
          "gradient": "linear", "x1": 0, "y1": 0, "x2": 1, "y2": 0,
          "stops": [
            {"offset": 0, "color": "#F47A2A"},
            {"offset": 0.15, "color": "#F99A45"},
            {"offset": 0.45, "color": "#FFBF5F"},
            {"offset": 0.7, "color": "#FFDA85"},
            {"offset": 1, "color": "#FFE699"}
          ]
        }
      }
    },
    {
      "data": {"name": "d2021"},
      "mark": {
        "type": "line", "strokeWidth": 6, "strokeJoin": "round", "strokeCap": "round", "clip": true,
        "stroke": {
          "gradient": "linear", "x1": 0, "y1": 0, "x2": 1, "y2": 0,
          "stops": [
            {"offset": 0, "color": "#C4C4C4"},
            {"offset": 0.15, "color": "#D9D9D9"},
            {"offset": 0.35, "color": "#E6E6E6"},
            {"offset": 1, "color": "#E3E3E3"}
          ]
        }
      }
    },
    {
      "data": {"name": "d2022"},
      "mark": {"type": "line", "strokeWidth": 6, "strokeJoin": "round", "strokeCap": "round", "clip": true},
      "encoding": {"color": {"datum": "2022年", "type": "nominal"}}
    },
    {
      "data": {"name": "d2023"},
      "mark": {"type": "line", "strokeWidth": 6, "strokeJoin": "round", "strokeCap": "round", "clip": true},
      "encoding": {"color": {"datum": "2023年", "type": "nominal"}}
    },
    {
      "data": {"name": "d2024"},
      "mark": {"type": "line", "strokeWidth": 6, "strokeJoin": "round", "strokeCap": "round", "clip": true},
      "encoding": {"color": {"datum": "2024年", "type": "nominal"}}
    },
    {
      "data": {"name": "d2025"},
      "mark": {"type": "line", "strokeWidth": 6, "strokeJoin": "round", "strokeCap": "round", "clip": true},
      "encoding": {"color": {"datum": "2025年", "type": "nominal"}}
    },
    {
      "data": {"name": "d2026"},
      "mark": {"type": "line", "strokeWidth": 6, "strokeJoin": "round", "strokeCap": "round", "clip": true},
      "encoding": {"color": {"datum": "2026年", "type": "nominal"}}
    }
  ],
  "config": {
    "view": {"stroke": null},
    "font": "Noto Sans CJK SC"
  }
}
